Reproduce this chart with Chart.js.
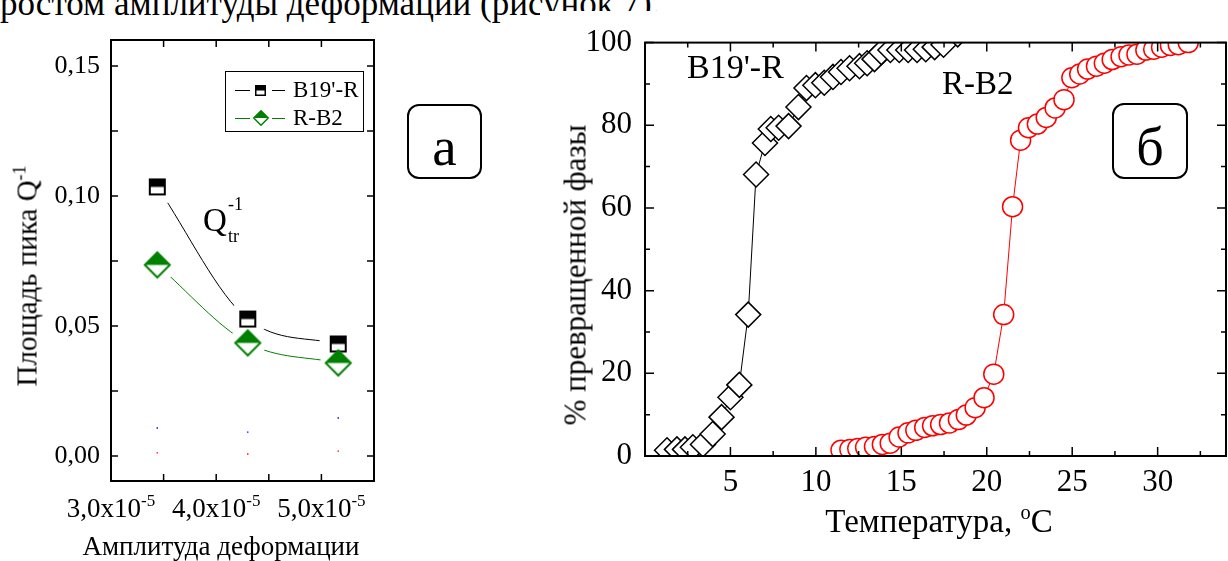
<!DOCTYPE html>
<html lang="ru">
<head>
<meta charset="UTF-8">
<title>Площадь пика Q-1 и доля превращенной фазы</title>
<script src="https://cdn.jsdelivr.net/npm/chart.js"></script>
<style>
  html, body { margin: 0; padding: 0; background: #fff; }
  #page { position: relative; width: 1228px; height: 561px; overflow: hidden; background: #fff; }
  .panel { position: absolute; }
  .t { position: absolute; font-family: 'Liberation Serif', 'Times New Roman', serif; line-height: 1; white-space: nowrap; color: #000; z-index: 5; }
  .rot { transform: translate(-50%, -50%) rotate(-90deg); }
  .box { position: absolute; border: 2px solid #000; border-radius: 12px; box-sizing: border-box; z-index: 5; }
  .sup { font-size: 0.62em; position: relative; top: -0.62em; }
  #legend { position: absolute; left: 225px; top: 71px; width: 139px; height: 61px; border: 1px solid #000; box-sizing: border-box; background: #fff; z-index: 4; }
  #legendSample { position: absolute; left: 225px; top: 71px; z-index: 5; }
</style>
</head>
<body>
<div id="page">
  <div class="t" style="left:0;top:-14px;font-size:35px;z-index:0">ростом амплитуды деформации (рисунок 7).</div>

  <div class="panel" style="left:0;top:0;width:520px;height:561px"><canvas id="chartA"></canvas></div>
  <div class="panel" style="left:540px;top:11px;width:700px;height:550px;background:#fff"><canvas id="chartB"></canvas></div>

  <!-- panel а -->
  <div class="t rot" style="left:27px;top:276px;font-size:29px">Площадь пика Q<span class="sup">-1</span></div>
  <div class="t" style="left:221px;top:533px;font-size:27px;transform:translateX(-50%)">Амплитуда деформации</div>
  <div id="legend"></div>
  <canvas id="legendSample" width="139" height="61"></canvas>
  <div class="t" style="left:293px;top:78px;font-size:23px">B19'-R</div>
  <div class="t" style="left:293px;top:106px;font-size:23px">R-B2</div>
  <div class="t" style="left:203px;top:204px;font-size:33px">Q</div>
  <div class="t" style="left:228px;top:195px;font-size:18px">-1</div>
  <div class="t" style="left:228px;top:227px;font-size:18px">tr</div>
  <div class="box" style="left:407px;top:104px;width:75px;height:75px"></div>
  <div class="t" style="left:407px;top:119px;width:75px;text-align:center;font-size:55px">a</div>

  <!-- panel б -->
  <div class="t rot" style="left:575px;top:275px;font-size:31px">% превращенной фазы</div>
  <div class="t" style="left:939px;top:505px;font-size:33px;transform:translateX(-50%)">Температура, <span class="sup">o</span>C</div>
  <div class="t" style="left:687px;top:50px;font-size:34px">B19'-R</div>
  <div class="t" style="left:942px;top:67px;font-size:33px">R-B2</div>
  <div class="box" style="left:1112px;top:103px;width:76px;height:76px"></div>
  <div class="t" style="left:1112px;top:120px;width:76px;text-align:center;font-size:54px">б</div>
</div>

<script>
// ---- panel (а): peak area vs strain amplitude ----
const amplitude = [3.44e-5, 4.30e-5, 5.16e-5];
const areaB19R = [0.1035, 0.0527, 0.0431];
const areaRB2 = [0.0735, 0.0435, 0.0358];
const blueDots = [0.0108, 0.0092, 0.0146];
const redDots = [0.0012, 0.0008, 0.0019];
const ampTicks = [3.0e-5, 4.0e-5, 5.0e-5];
const areaTicks = [0, 0.05, 0.10, 0.15];

// ---- panel (б): transformed fraction vs temperature ----
const tempB19R = [1.29, 1.87, 2.34, 2.8, 3.39, 3.96, 4.48, 5.0, 5.52, 6.04,
  6.5, 7.02, 7.36, 7.82, 8.4, 8.98, 9.45, 9.97, 10.49, 11.0, 11.47, 11.97,
  12.55, 13.0, 13.43, 13.83, 14.36, 14.88, 15.4, 15.92, 16.43, 16.95, 17.47, 18.3];
const fracB19R = [1.4, 1.6, 1.6, 2.1, 2.8, 5.3, 9.4, 14.2, 17.2, 34.2,
  68.1, 75.7, 79.1, 79.4, 79.8, 84.4, 89.0, 89.7, 90.3, 91.7, 92.9, 93.8,
  94.3, 95.0, 96.0, 97.7, 98.2, 98.2, 98.2, 98.2, 98.4, 98.9, 99.5, 102];
const tempRB2 = [11.47, 11.99, 12.45, 12.91, 13.43, 13.89, 14.35, 14.87, 15.39,
  15.85, 16.37, 16.83, 17.3, 17.82, 18.34, 18.8, 19.32, 19.84, 20.41, 20.99,
  21.51, 21.98, 22.44, 22.96, 23.48, 24.0, 24.52, 24.98, 25.44, 25.9, 26.42,
  26.88, 27.34, 27.86, 28.32, 28.79, 29.31, 29.77, 30.23, 30.75, 31.21, 31.79];
const fracRB2 = [1.4, 1.6, 1.8, 2.1, 2.3, 2.8, 3.1, 4.6, 5.6,
  6.2, 6.9, 7.3, 7.6, 8.0, 8.8, 9.9, 11.7, 14.1, 19.8, 34.2,
  60.3, 76.4, 79.4, 80.3, 81.9, 84.2, 86.2, 91.5, 92.4, 93.6, 94.3,
  95.0, 95.9, 96.6, 97.0, 97.2, 98.2, 98.4, 98.9, 99.3, 99.5, 100.0];
const tempTicks = [5, 10, 15, 20, 25, 30];
const fracTicks = [0, 20, 40, 60, 80, 100];

const SERIF = "'Liberation Serif', 'Times New Roman', serif";
const GREEN = '#008000';

const pts = (xs, ys) => xs.map((x, i) => ({ x: x, y: ys[i] }));

function halfSquare(side, color, lw) {
  const n = Math.ceil(side + 4);
  const c = document.createElement('canvas');
  c.width = c.height = n;
  const g = c.getContext('2d');
  const o = (n - side) / 2;
  g.fillStyle = '#fff';
  g.fillRect(o, o, side, side);
  g.fillStyle = color;
  g.fillRect(o, o, side, side / 2);
  g.strokeStyle = color;
  g.lineWidth = lw;
  g.strokeRect(o + lw / 2, o + lw / 2, side - lw, side - lw);
  return c;
}

function halfDiamond(diag, color, lw) {
  const n = Math.ceil(diag + 4);
  const c = document.createElement('canvas');
  c.width = c.height = n;
  const g = c.getContext('2d');
  const m = n / 2, r = diag / 2 - lw / 2;
  g.beginPath();
  g.moveTo(m, m - r); g.lineTo(m + r, m); g.lineTo(m, m + r); g.lineTo(m - r, m); g.closePath();
  g.fillStyle = '#fff';
  g.fill();
  g.beginPath();
  g.moveTo(m, m - r); g.lineTo(m + r, m); g.lineTo(m - r, m); g.closePath();
  g.fillStyle = color;
  g.fill();
  g.beginPath();
  g.moveTo(m, m - r); g.lineTo(m + r, m); g.lineTo(m, m + r); g.lineTo(m - r, m); g.closePath();
  g.strokeStyle = color;
  g.lineWidth = lw;
  g.stroke();
  return c;
}

// box around the plot with inward ticks on all four sides
const frame = {
  id: 'frame',
  afterDatasetsDraw(chart, args, o) {
    const { ctx, chartArea: a, scales: { x, y } } = chart;
    const marks = (scale, step) => {
      const out = [];
      const first = Math.ceil(scale.min / step - 1e-6);
      for (let k = first; k * step <= scale.max + step * 1e-6; k++) out.push(scale.getPixelForValue(k * step));
      return out;
    };
    ctx.save();
    ctx.strokeStyle = '#000';
    ctx.lineWidth = o.tickWidth;
    ctx.beginPath();
    [[o.xMinor, o.minor], [o.xStep, o.major]].forEach(([step, len]) => {
      marks(x, step).forEach(p => {
        ctx.moveTo(p, a.bottom); ctx.lineTo(p, a.bottom - len);
        ctx.moveTo(p, a.top); ctx.lineTo(p, a.top + len);
      });
    });
    [[o.yMinor, o.minor], [o.yStep, o.major]].forEach(([step, len]) => {
      marks(y, step).forEach(p => {
        ctx.moveTo(a.left, p); ctx.lineTo(a.left + len, p);
        ctx.moveTo(a.right, p); ctx.lineTo(a.right - len, p);
      });
    });
    ctx.stroke();
    ctx.lineWidth = o.border;
    ctx.strokeRect(a.left, a.top, a.right - a.left, a.bottom - a.top);
    ctx.restore();
  }
};

// "3,0x10^-5" style labels for the amplitude axis
const ampLabels = {
  id: 'ampLabels',
  afterDraw(chart) {
    const { ctx, chartArea: a, scales: { x } } = chart;
    ctx.save();
    ctx.fillStyle = '#000';
    ctx.textBaseline = 'alphabetic';
    ctx.textAlign = 'left';
    x.ticks.forEach(t => {
      const px = x.getPixelForValue(t.value);
      const main = (t.value * 1e5).toFixed(1).replace('.', ',') + 'x10';
      ctx.font = '27px ' + SERIF;
      const w1 = ctx.measureText(main).width;
      ctx.font = '17px ' + SERIF;
      const w2 = ctx.measureText('-5').width;
      const x0 = px - (w1 + w2) / 2;
      ctx.font = '27px ' + SERIF;
      ctx.fillText(main, x0, a.bottom + 36);
      ctx.font = '17px ' + SERIF;
      ctx.fillText('-5', x0 + w1, a.bottom + 25);
    });
    ctx.restore();
  }
};

const sqBig = halfSquare(17, '#000', 2);
const diaBig = halfDiamond(27, GREEN, 2);

new Chart(document.getElementById('chartA'), {
  type: 'scatter',
  data: {
    datasets: [
      { data: pts(amplitude, areaB19R), showLine: true, pointRadius: 0, borderColor: '#000', borderWidth: 1, cubicInterpolationMode: 'monotone', order: 3 },
      { data: pts(amplitude, areaRB2), showLine: true, pointRadius: 0, borderColor: GREEN, borderWidth: 1, cubicInterpolationMode: 'monotone', order: 3 },
      { data: pts(amplitude, areaB19R), pointRadius: 19, pointBackgroundColor: '#fff', pointBorderWidth: 0, order: 2 },
      { data: pts(amplitude, areaRB2), pointRadius: 18, pointBackgroundColor: '#fff', pointBorderWidth: 0, order: 2 },
      { label: "B19'-R", data: pts(amplitude, areaB19R), pointStyle: sqBig, pointRadius: 9, order: 1 },
      { label: 'R-B2', data: pts(amplitude, areaRB2), pointStyle: diaBig, pointRadius: 13, order: 0 },
      { data: pts(amplitude, blueDots), pointStyle: 'rect', pointRadius: 1, pointBackgroundColor: '#0000ff', pointBorderWidth: 0, order: 0 },
      { data: pts(amplitude, redDots), pointStyle: 'rect', pointRadius: 1, pointBackgroundColor: '#ff0000', pointBorderWidth: 0, order: 0 }
    ]
  },
  options: {
    responsive: true,
    maintainAspectRatio: false,
    animation: false,
    events: [],
    layout: { padding: { top: 40, right: 146, left: 0, bottom: 0 } },
    plugins: {
      legend: { display: false },
      tooltip: { enabled: false },
      frame: { xStep: 1e-5, xMinor: 0.5e-5, yStep: 0.05, yMinor: 0.025, major: 7, minor: 7, tickWidth: 1.5, border: 2 }
    },
    scales: {
      x: {
        type: 'linear', min: 3.0e-5, max: 5.5e-5,
        grid: { display: false, drawTicks: false }, border: { display: false },
        ticks: { display: false },
        afterBuildTicks: s => { s.ticks = ampTicks.map(v => ({ value: v })); },
        afterFit: s => { s.height = 80; }
      },
      y: {
        type: 'linear', min: -0.0096, max: 0.16,
        grid: { display: false, drawTicks: false }, border: { display: false },
        ticks: {
          color: '#000', padding: 11, autoSkip: false,
          font: { family: SERIF, size: 26 },
          callback: v => v.toFixed(2).replace('.', ',')
        },
        afterBuildTicks: s => { s.ticks = areaTicks.map(v => ({ value: v })); },
        afterFit: s => { s.width = 111; }
      }
    }
  },
  plugins: [frame, ampLabels]
});

// legend samples
(function () {
  const g = document.getElementById('legendSample').getContext('2d');
  const rows = [[19, '#000', halfSquare(11, '#000', 1.5)], [47, GREEN, halfDiamond(16, GREEN, 1.5)]];
  rows.forEach(([yy, col, img]) => {
    g.strokeStyle = col;
    g.lineWidth = 1;
    g.beginPath();
    g.moveTo(10, yy + 0.5); g.lineTo(25, yy + 0.5);
    g.moveTo(47, yy + 0.5); g.lineTo(60, yy + 0.5);
    g.stroke();
    g.drawImage(img, Math.round(35.5 - img.width / 2), Math.round(yy - img.height / 2));
  });
})();

new Chart(document.getElementById('chartB'), {
  type: 'scatter',
  data: {
    datasets: [
      {
        label: "B19'-R", data: pts(tempB19R, fracB19R), showLine: true, clip: 0,
        borderColor: '#000', borderWidth: 1,
        pointStyle: 'rectRot', pointRadius: 12.5, pointBorderWidth: 1.5,
        pointBorderColor: '#000', pointBackgroundColor: '#fff'
      },
      {
        label: 'R-B2', data: pts(tempRB2, fracRB2), showLine: true, clip: 0,
        borderColor: '#ff0000', borderWidth: 1,
        pointStyle: 'circle', pointRadius: 10, pointBorderWidth: 1.5,
        pointBorderColor: '#ff0000', pointBackgroundColor: '#fff'
      }
    ]
  },
  options: {
    responsive: true,
    maintainAspectRatio: false,
    animation: false,
    events: [],
    layout: { padding: { top: 9, right: 6, left: 0, bottom: 0 } },
    plugins: {
      legend: { display: false },
      tooltip: { enabled: false },
      frame: { xStep: 5, xMinor: 2.5, yStep: 20, yMinor: 10, major: 9, minor: 5, tickWidth: 1.5, border: 2 }
    },
    scales: {
      x: {
        type: 'linear', min: 0, max: 34,
        grid: { display: false, drawTicks: false }, border: { display: false },
        ticks: { color: '#000', padding: 8, autoSkip: false, maxRotation: 0, font: { family: SERIF, size: 31 } },
        afterBuildTicks: s => { s.ticks = tempTicks.map(v => ({ value: v })); },
        afterFit: s => { s.height = 105; }
      },
      y: {
        type: 'linear', min: 0, max: 100,
        grid: { display: false, drawTicks: false }, border: { display: false },
        ticks: { color: '#000', padding: 13, autoSkip: false, font: { family: SERIF, size: 31 } },
        afterBuildTicks: s => { s.ticks = fracTicks.map(v => ({ value: v })); },
        afterFit: s => { s.width = 105; }
      }
    }
  },
  plugins: [frame]
});
</script>
</body>
</html>
